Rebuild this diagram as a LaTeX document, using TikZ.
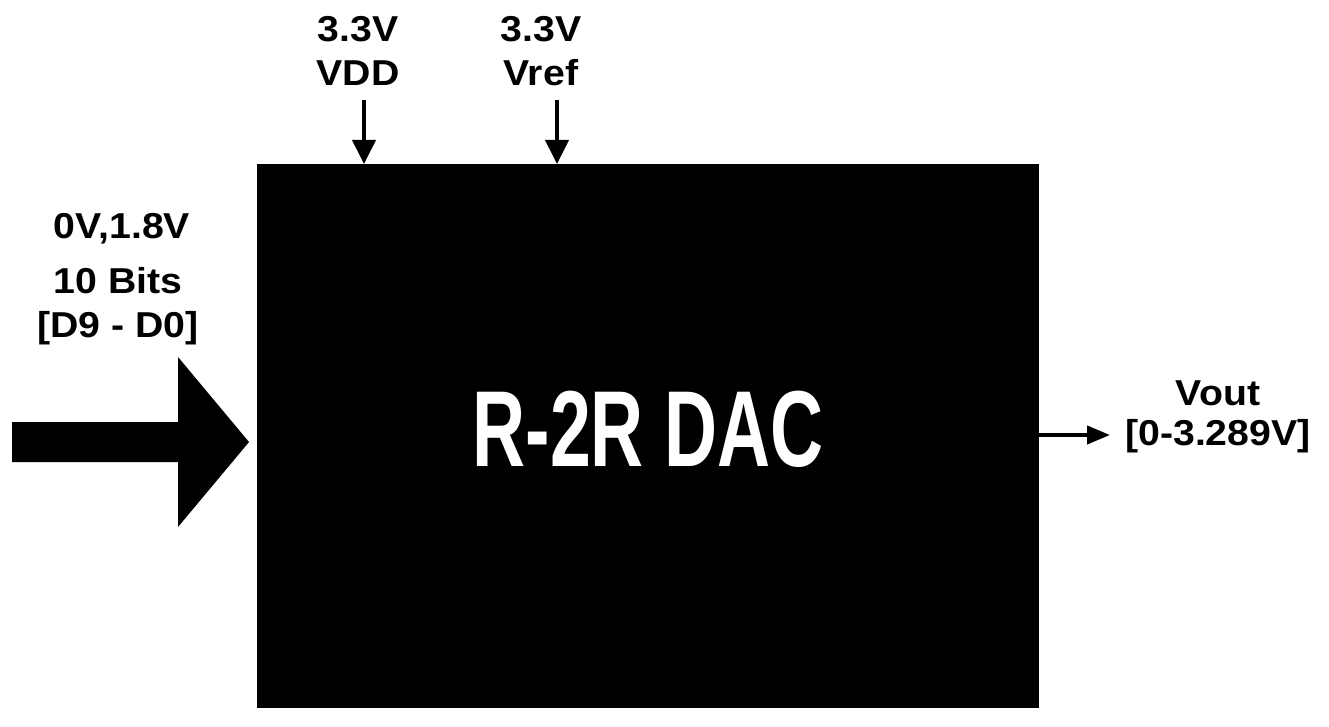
\documentclass[tikz,border=0pt]{standalone}
\usepackage{fontspec}
\usepackage{graphicx}
\setmainfont{Liberation Sans}
\newfontfamily\lblfont{Liberation Sans}[FakeStretch=1.09]
\usetikzlibrary{arrows.meta}
\tikzset{
  lbl/.style={font=\lblfont\bfseries\fontsize{36}{44}\selectfont, align=center, inner sep=0pt, anchor=base},
  pin/.style={line width=4pt, -{Triangle[length=24pt,width=23pt]}},
  outpin/.style={line width=4pt, -{Triangle[length=23pt,width=18pt]}},
}
\begin{document}
\begin{tikzpicture}[x=1pt,y=-1pt]
\useasboundingbox (0,0) rectangle (1329,727);
% DAC block
\node[fill=black, draw=none, minimum width=782pt, minimum height=544pt, inner sep=0pt, anchor=north west] (dac) at (257,164) {};
\node[text=white, font=\bfseries\fontsize{108}{108}\selectfont, inner sep=0pt] (title) at (648,429) {\scalebox{0.68}[1]{R-2R DAC}};
% supply labels
\node[lbl] (vdd) at (358,86) {3.3V\\VDD};
\node[lbl] (vref) at (541,86) {3.3V\\Vref};
\coordinate (vddin) at (364,100);
\coordinate (vrefin) at (557,100);
\draw[pin] (vddin) -- (vddin |- dac.north);
\draw[pin] (vrefin) -- (vrefin |- dac.north);
% input labels
\node[lbl] (lev) at (122,238) {0V,1.8V};
\node[lbl] (bits) at (118,337) {10 Bits\\{}{[}D9 - D0{]}};
% big input arrow
\fill[black] (12,422) -- (178,422) -- (178,357) -- (249,442) -- (178,527) -- (178,462) -- (12,462) -- cycle;
% output
\coordinate (outtip) at (1110,435);
\draw[outpin] (dac.east |- outtip) -- (outtip);
\node[lbl, font=\lblfont\bfseries\fontsize{36}{40}\selectfont] (vout) at (1218,445) {Vout\\{}{[}0-3.289V{]}};
\end{tikzpicture}
\end{document}
